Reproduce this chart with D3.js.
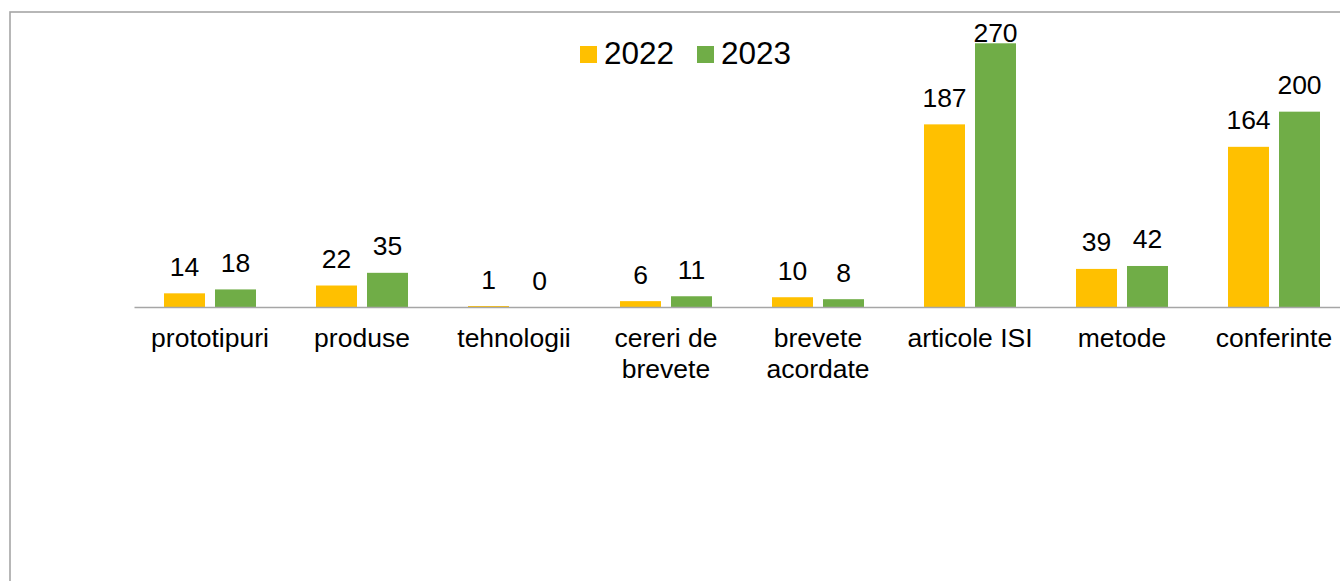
<!DOCTYPE html>
<html>
<head>
<meta charset="utf-8">
<script src="https://cdn.jsdelivr.net/npm/d3@7"></script>
<style>
  html, body { margin: 0; padding: 0; background: #fff; overflow: hidden; }
  svg { display: block; font-family: "Liberation Sans", Arial, sans-serif; }
</style>
</head>
<body>
<svg id="chart" width="1340" height="581"></svg>
<script>
// Categories (multi-line labels split on "\n")
const categories = ["prototipuri", "produse", "tehnologii", "cereri de\nbrevete", "brevete\nacordate", "articole ISI", "metode", "conferinte"];
const seriesNames = ["2022", "2023"];
const values2022 = [14, 22, 1, 6, 10, 187, 39, 164];
const values2023 = [18, 35, 0, 11, 8, 270, 42, 200];
const colors = ["#FFC000", "#70AD47"];

const svg = d3.select("#chart");
const W = 1340, H = 581;

// Outer frame
svg.append("rect")
  .attr("x", 10).attr("y", 12)
  .attr("width", W + 20).attr("height", H + 20)
  .attr("fill", "#fff")
  .attr("stroke", "#a6a6a6").attr("stroke-width", 1.6);

const plotLeft = 134, step = 152;
const plotRight = plotLeft + step * categories.length;
const baseY = 307, topY = 14;

const x0 = d3.scaleBand().domain(categories).range([plotLeft, plotRight]).paddingInner(0).paddingOuter(0);
const x1 = d3.scaleBand().domain(seriesNames).range([30, step - 30]).paddingInner(10 / 51);
const y = d3.scaleLinear().domain([0, 300]).range([baseY, topY]);

const rows = categories.map((c, i) => ({ cat: c, vals: [values2022[i], values2023[i]] }));

const groups = svg.append("g").selectAll("g").data(rows).join("g")
  .attr("transform", d => `translate(${x0(d.cat)},0)`);

groups.selectAll("rect").data(d => d.vals.map((v, k) => ({ v, k })))
  .join("rect")
  .attr("x", d => x1(seriesNames[d.k]))
  .attr("y", d => y(d.v))
  .attr("width", x1.bandwidth())
  .attr("height", d => baseY - y(d.v))
  .attr("fill", d => colors[d.k]);

// Value labels, kept inside the plot area
groups.selectAll("text.val").data(d => d.vals.map((v, k) => ({ v, k })))
  .join("text")
  .attr("class", "val")
  .attr("x", d => x1(seriesNames[d.k]) + x1.bandwidth() / 2)
  .attr("y", d => Math.max(y(d.v) - 17.5, 42))
  .attr("text-anchor", "middle")
  .attr("font-size", 26.5)
  .attr("fill", "#000")
  .text(d => d.v);

// Category axis
const axis = svg.append("g").attr("transform", `translate(0,${baseY})`)
  .call(d3.axisBottom(x0).tickSize(0).tickFormat(""));
axis.select(".domain").attr("stroke", "#a6a6a6").attr("stroke-width", 1.6);

const catLabels = svg.append("g").selectAll("text").data(categories).join("text")
  .attr("x", d => x0(d) + x0.bandwidth() / 2)
  .attr("y", 347)
  .attr("text-anchor", "middle")
  .attr("font-size", 26.5)
  .attr("fill", "#000");
catLabels.selectAll("tspan").data(d => d.split("\n")).join("tspan")
  .attr("x", function () { return d3.select(this.parentNode).attr("x"); })
  .attr("dy", (d, i) => i === 0 ? 0 : 31)
  .text(d => d);

// Legend
const legend = svg.append("g");
const legendX = [580, 697];
seriesNames.forEach((s, i) => {
  legend.append("rect")
    .attr("x", legendX[i]).attr("y", 46)
    .attr("width", 17).attr("height", 17)
    .attr("fill", colors[i]);
  legend.append("text")
    .attr("x", legendX[i] + 24).attr("y", 64)
    .attr("font-size", 31.5)
    .attr("fill", "#000")
    .text(s);
});
</script>
</body>
</html>
